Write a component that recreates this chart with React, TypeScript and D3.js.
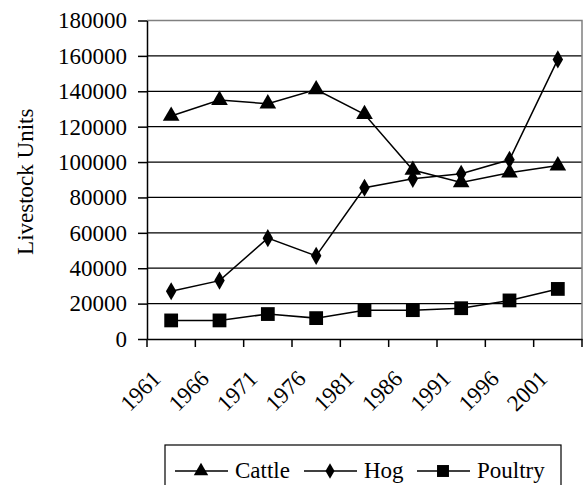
import * as React from 'react';
import * as d3 from 'd3';

const years = ['1961', '1966', '1971', '1976', '1981', '1986', '1991', '1996', '2001'];
const cattle = [126000, 135000, 133000, 141000, 127000, 95500, 88500, 94000, 98000];
const hog = [27000, 33000, 57000, 47000, 85500, 90500, 93400, 101300, 158000];
const poultry = [10500, 10500, 14100, 11800, 16300, 16300, 17400, 21800, 28300];
const yTicks = [0, 20000, 40000, 60000, 80000, 100000, 120000, 140000, 160000, 180000];

const W = 587;
const H = 485;
const margin = { top: 20.5, right: 5, bottom: 146, left: 147 };
const FONT = '"Liberation Serif", "Times New Roman", serif';
const FS = 23;

const App = () => {
  const ref = React.useRef<SVGSVGElement>(null);

  React.useEffect(() => {
    const svg = d3.select(ref.current);
    svg.selectAll('*').remove();

    const x0 = margin.left;
    const x1 = W - margin.right;
    const y0 = margin.top;
    const y1 = H - margin.bottom;

    const x = d3.scaleBand().domain(years).range([x0, x1]);
    const y = d3.scaleLinear().domain([0, 180000]).range([y1, y0]);

    // gridlines
    svg
      .append('g')
      .selectAll('line')
      .data(yTicks.slice(1, -1))
      .join('line')
      .attr('x1', x0)
      .attr('x2', x1)
      .attr('y1', (d) => y(d))
      .attr('y2', (d) => y(d))
      .attr('stroke', '#000')
      .attr('stroke-width', 1.2);

    // plot border (top/right)
    svg
      .append('path')
      .attr('d', `M${x0},${y0}H${x1}V${y1}`)
      .attr('fill', 'none')
      .attr('stroke', '#808080')
      .attr('stroke-width', 1.5);

    // y axis
    const yAxis = svg
      .append('g')
      .attr('transform', `translate(${x0},0)`)
      .call(
        d3
          .axisLeft(y)
          .tickValues(yTicks)
          .tickFormat(d3.format('d'))
          .tickSize(9)
          .tickPadding(11)
          .tickSizeOuter(0)
      );
    yAxis.select('.domain').attr('stroke-width', 1.5);
    yAxis.selectAll('.tick line').attr('stroke-width', 1.5);
    yAxis
      .selectAll('text')
      .attr('font-family', FONT)
      .attr('font-size', FS)
      .attr('fill', '#000');

    // x axis
    const xAxis = svg
      .append('g')
      .attr('transform', `translate(0,${y1})`)
      .call(d3.axisBottom(x).tickSize(0).tickFormat(() => ''));
    xAxis.select('.domain').attr('stroke-width', 1.5);
    xAxis.selectAll('.tick').remove();
    const bounds = years.map((yr) => x(yr) as number).concat([x1]);
    xAxis
      .selectAll('line.bound')
      .data(bounds)
      .join('line')
      .attr('class', 'bound')
      .attr('x1', (d) => d)
      .attr('x2', (d) => d)
      .attr('y1', 0)
      .attr('y2', 8)
      .attr('stroke', '#000')
      .attr('stroke-width', 1.5);
    xAxis
      .selectAll('text.lab')
      .data(years)
      .join('text')
      .attr('class', 'lab')
      .attr('font-family', FONT)
      .attr('font-size', FS)
      .attr('fill', '#000')
      .attr('text-anchor', 'end')
      .attr(
        'transform',
        (d) => `translate(${(x(d) as number) + x.bandwidth() / 2 - 9},${41}) rotate(-45)`
      )
      .text((d) => d);

    // y title
    svg
      .append('text')
      .attr('transform', `translate(33,${(y0 + y1) / 2 + 2}) rotate(-90)`)
      .attr('text-anchor', 'middle')
      .attr('font-family', FONT)
      .attr('font-size', FS)
      .attr('fill', '#000')
      .text('Livestock Units');

    const cx = (i: number) => (x(years[i]) as number) + x.bandwidth() / 2;
    const series = [
      { name: 'Cattle', values: cattle, symbol: d3.symbolTriangle, size: 120 },
      { name: 'Hog', values: hog, symbol: d3.symbolDiamond, size: 95 },
      { name: 'Poultry', values: poultry, symbol: d3.symbolSquare, size: 190 },
    ];

    const line = d3
      .line<number>()
      .x((_, i) => cx(i))
      .y((d) => y(d));

    series.forEach((s) => {
      svg
        .append('path')
        .datum(s.values)
        .attr('fill', 'none')
        .attr('stroke', '#000')
        .attr('stroke-width', 1.5)
        .attr('d', line);
      svg
        .append('g')
        .selectAll('path')
        .data(s.values)
        .join('path')
        .attr('transform', (d, i) => `translate(${cx(i)},${y(d)})`)
        .attr('d', d3.symbol(s.symbol, s.size)())
        .attr('fill', '#000');
    });

    // legend
    const lg = svg.append('g').attr('transform', 'translate(165,445)');
    lg.append('rect')
      .attr('width', 396)
      .attr('height', 50)
      .attr('fill', '#fff')
      .attr('stroke', '#000')
      .attr('stroke-width', 1.2);
    const offsets = [10, 139, 252];
    series.forEach((s, i) => {
      const g = lg.append('g').attr('transform', `translate(${offsets[i]},26)`);
      g.append('line').attr('x1', 0).attr('x2', 53).attr('stroke', '#000').attr('stroke-width', 1.5);
      g.append('path')
        .attr('transform', 'translate(26,0)')
        .attr('d', d3.symbol(s.symbol, s.size * 0.75)())
        .attr('fill', '#000');
      g.append('text')
        .attr('x', 60)
        .attr('y', 7)
        .attr('font-family', FONT)
        .attr('font-size', FS)
        .attr('fill', '#000')
        .text(s.name);
    });
  });

  return (
    <svg
      ref={ref}
      width={W}
      height={H}
      style={{ position: 'absolute', left: 0, top: 0, background: '#fff' }}
    />
  );
};

export default App;
